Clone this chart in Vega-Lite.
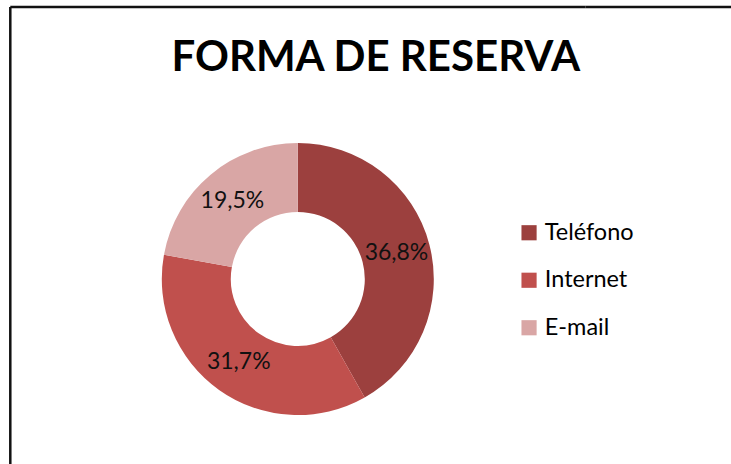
{
  "$schema": "https://vega.github.io/schema/vega-lite/v6.json",
  "background": "#ffffff",
  "padding": {"left": 8.3, "top": 5, "right": 0, "bottom": 0},
  "spacing": 0,
  "bounds": "flush",
  "title": {
    "text": "FORMA DE RESERVA",
    "font": "Lato",
    "fontSize": 42,
    "fontWeight": "bold",
    "color": "#000000",
    "anchor": "middle",
    "frame": "group",
    "baseline": "alphabetic",
    "dx": 365.5,
    "offset": -107
  },
  "data": {
    "values": [
      {"forma": "Teléfono", "pct": 0.368},
      {"forma": "Internet", "pct": 0.317},
      {"forma": "E-mail", "pct": 0.195}
    ]
  },
  "hconcat": [
    {
      "width": 575,
      "height": 544,
      "view": {"stroke": "#111111", "strokeWidth": 2.5, "strokeDash": [575, 544, 1119, 0]},
      "layer": [
        {
          "mark": {"type": "arc", "outerRadius": 136, "innerRadius": 67},
          "encoding": {
            "theta": {"field": "pct", "type": "quantitative", "stack": true},
            "order": {"field": "pct", "type": "quantitative", "sort": "descending"},
            "color": {
              "field": "forma",
              "type": "nominal",
              "sort": ["Teléfono", "Internet", "E-mail"],
              "scale": {"domain": ["Teléfono", "Internet", "E-mail"], "range": ["#9C403E", "#C0504D", "#D9A6A5"]},
              "legend": {
                "orient": "none",
                "legendX": 507,
                "legendY": 214,
                "title": null,
                "padding": 0,
                "labelFont": "Lato",
                "labelFontSize": 23.5,
                "labelColor": "#000000",
                "labelOffset": 4,
                "symbolType": "square",
                "symbolSize": 230,
                "symbolStrokeWidth": 0,
                "symbolOpacity": 1,
                "rowPadding": 22.5
              }
            }
          }
        },
        {
          "mark": {"type": "text", "radius": 102, "font": "Lato", "fontSize": 23, "color": "#111111"},
          "encoding": {
            "theta": {"field": "pct", "type": "quantitative", "stack": true},
            "order": {"field": "pct", "type": "quantitative", "sort": "descending"},
            "text": {"field": "pct", "type": "quantitative", "format": ".1%"}
          }
        }
      ]
    },
    {
      "width": 156,
      "height": 544,
      "view": {"stroke": "#111111", "strokeWidth": 2.5, "strokeDash": [856, 544]},
      "mark": {"type": "text"},
      "encoding": {"text": {"value": ""}}
    }
  ],
  "config": {
    "locale": {
      "number": {"decimal": ",", "thousands": ".", "grouping": [3], "currency": ["", " €"]}
    }
  }
}
